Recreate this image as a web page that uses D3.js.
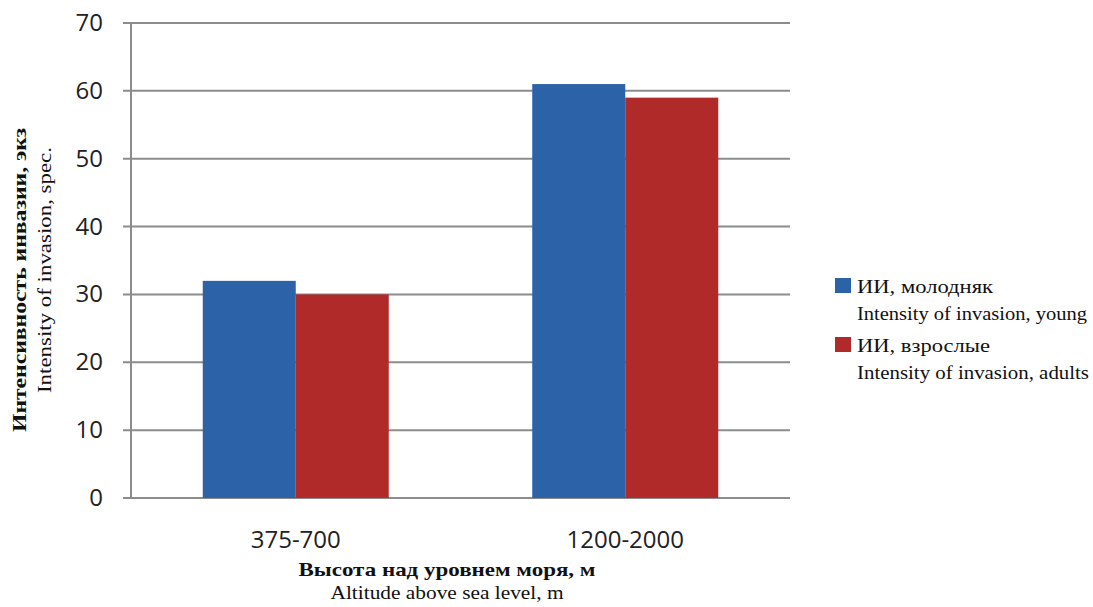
<!DOCTYPE html>
<html><head><meta charset="utf-8">
<script src="https://cdn.jsdelivr.net/npm/d3@7"></script>
<style>body{margin:0;background:#fff} .serif{font-family:'Liberation Serif','Times New Roman',serif} .sans{font-family:'Open Sans',sans-serif}</style>
</head><body><svg id="c" width="1093" height="607"></svg>
<script>
const categories = ["375-700", "1200-2000"];
const seriesNames = ["ИИ, молодняк", "ИИ, взрослые"];
const seriesNamesEn = ["Intensity of invasion, young", "Intensity of invasion, adults"];
const young = [32, 61];
const adults = [30, 59];
const yTicks = [0, 10, 20, 30, 40, 50, 60, 70];
const colors = ["#2b62a8", "#b02a2a"];

const svg = d3.select("#c");
const L = 131, R = 790, T = 23, B = 498;
const x = d3.scaleBand().domain(categories).range([L, R]);
const y = d3.scaleLinear().domain([0, 70]).range([B, T]);
const barW = 93;

// gridlines
svg.append("g").selectAll("line").data(yTicks).join("line")
  .attr("x1", L - 8).attr("x2", R).attr("y1", d => y(d)).attr("y2", d => y(d))
  .attr("stroke", "#8c8c8c").attr("stroke-width", 2);

// y axis labels
svg.append("g").selectAll("text").data(yTicks).join("text")
  .attr("class", "sans")
  .attr("x", 103).attr("y", d => y(d) + 8).attr("text-anchor", "end")
  .attr("font-size", 24).attr("fill", "#222")
  .text(d => d);

// bars
const data = [young, adults];
data.forEach((vals, si) => {
  svg.append("g").selectAll("rect").data(categories).join("rect")
    .attr("x", (c) => x(c) + x.bandwidth() / 2 - barW + si * barW)
    .attr("y", (c, i) => y(vals[i]))
    .attr("width", barW)
    .attr("height", (c, i) => B - y(vals[i]))
    .attr("fill", colors[si]);
});

// vertical axis line
svg.append("line").attr("x1", L).attr("x2", L).attr("y1", T).attr("y2", B)
  .attr("stroke", "#8c8c8c").attr("stroke-width", 2);

// x labels
svg.append("g").selectAll("text").data(categories).join("text")
  .attr("class", "sans")
  .attr("x", c => x(c) + x.bandwidth() / 2).attr("y", 548).attr("text-anchor", "middle")
  .attr("font-size", 24).attr("fill", "#222")
  .text(c => c);

// x title
svg.append("text").attr("class", "serif").attr("x", 447).attr("y", 576).attr("text-anchor", "middle")
  .attr("font-weight", "bold").attr("font-size", 19)
  .attr("textLength", 297).attr("lengthAdjust", "spacingAndGlyphs")
  .attr("fill", "#111").text("Высота над уровнем моря, м");
svg.append("text").attr("class", "serif").attr("x", 447).attr("y", 599).attr("text-anchor", "middle")
  .attr("font-size", 18)
  .attr("textLength", 233).attr("lengthAdjust", "spacingAndGlyphs")
  .attr("fill", "#111").text("Altitude above sea level, m");

// y title
svg.append("text").attr("class", "serif").attr("transform", "translate(26,280) rotate(-90)").attr("text-anchor", "middle")
  .attr("font-weight", "bold").attr("font-size", 19)
  .attr("textLength", 304).attr("lengthAdjust", "spacingAndGlyphs")
  .attr("fill", "#111").text("Интенсивность инвазии, экз");
svg.append("text").attr("class", "serif").attr("transform", "translate(51,270) rotate(-90)").attr("text-anchor", "middle")
  .attr("font-size", 18)
  .attr("textLength", 246).attr("lengthAdjust", "spacingAndGlyphs")
  .attr("fill", "#111").text("Intensity of invasion, spec.");

// legend
const lg = svg.append("g");
const legY = [278, 337];
seriesNames.forEach((n, i) => {
  const y0 = legY[i];
  lg.append("rect").attr("x", 835).attr("y", y0).attr("width", 16).attr("height", 15).attr("fill", colors[i]);
  lg.append("text").attr("class", "serif").attr("x", 857).attr("y", y0 + 15)
    .attr("font-size", 18).attr("fill", "#111")
    .attr("textLength", i === 0 ? 136 : 133).attr("lengthAdjust", "spacingAndGlyphs").text(n);
  lg.append("text").attr("class", "serif").attr("x", 857).attr("y", y0 + 42)
    .attr("font-size", 18).attr("fill", "#111")
    .attr("textLength", i === 0 ? 230 : 232).attr("lengthAdjust", "spacingAndGlyphs").text(seriesNamesEn[i]);
});
</script></body></html>
